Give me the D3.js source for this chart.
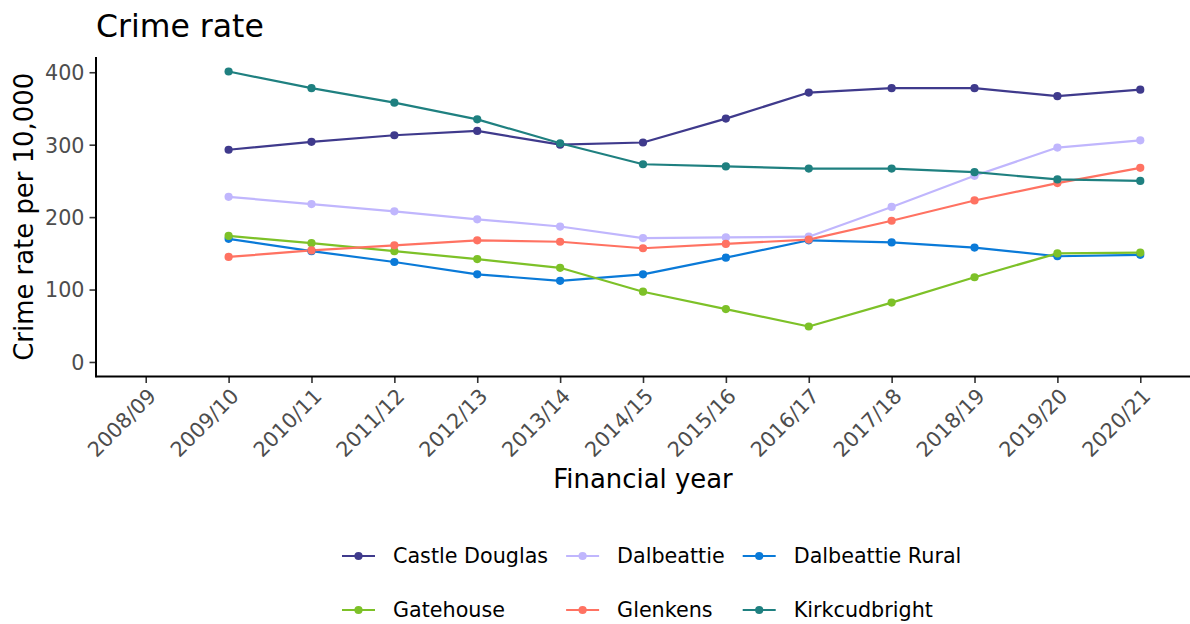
<!DOCTYPE html>
<html>
<head>
<meta charset="utf-8">
<script src="https://cdn.jsdelivr.net/npm/d3@7"></script>
<style>
  html, body { margin: 0; padding: 0; background: #fff; }
  svg { display: block; font-family: "DejaVu Sans", sans-serif; }
</style>
</head>
<body>
<svg id="chart" width="1190" height="624"></svg>
<script>
const years = ["2008/09","2009/10","2010/11","2011/12","2012/13","2013/14","2014/15","2015/16","2016/17","2017/18","2018/19","2019/20","2020/21"];
const seriesNames = ["Castle Douglas","Dalbeattie","Dalbeattie Rural","Gatehouse","Glenkens","Kirkcudbright"];
const seriesColors = ["#3f3a8c","#c0b6fd","#0a7ad8","#7dc128","#ff7262","#1f8080"];
const castleDouglas   = [null, 293, 304, 313, 319, 300, 303, 336, 372, 378, 378, 367, 376];
const dalbeattie      = [null, 228, 218, 208, 197, 187, 171, 172, 173, 214, 257, 296, 306];
const dalbeattieRural = [null, 170, 153, 138, 121, 112, 121, 144, 168, 165, 158, 146, 148];
const gatehouse       = [null, 174, 164, 153, 142, 130, 97, 73, 49, 82, 117, 150, 151];
const glenkens        = [null, 145, 154, 161, 168, 166, 157, 163, 169, 195, 223, 247, 268];
const kirkcudbright   = [null, 401, 378, 358, 335, 302, 273, 270, 267, 267, 262, 252, 250];
const yTicks = [0, 100, 200, 300, 400];
const titleText = "Crime rate";
const xTitle = "Financial year";
const yTitle = "Crime rate per 10,000";

const seriesValues = [castleDouglas, dalbeattie, dalbeattieRural, gatehouse, glenkens, kirkcudbright];
const series = seriesNames.map((name, i) => ({
  name, color: seriesColors[i],
  points: years.map((yr, j) => ({year: yr, value: seriesValues[i][j]})).filter(d => d.value != null)
}));

const svg = d3.select("#chart");
const pLeft = 96, pRight = 1190, pTop = 57, pBottom = 376.5;

const x = d3.scalePoint().domain(years).range([pLeft, pRight]).padding(0.6);
const allVals = seriesValues.flat().filter(v => v != null).concat([0]);
const vmin = d3.min(allVals), vmax = d3.max(allVals);
const ex = (vmax - vmin) * 0.05;
const y = d3.scaleLinear().domain([vmin - ex, vmax + ex]).range([pBottom, pTop]);

// Title
svg.append("text").attr("x", 96).attr("y", 37).attr("font-size", 31.5).attr("fill", "#000").text(titleText);

// Y axis
const yAxis = svg.append("g").attr("transform", `translate(${pLeft},0)`)
  .call(d3.axisLeft(y).tickValues(yTicks).tickSize(6.5).tickPadding(5));
yAxis.select(".domain").remove();
yAxis.selectAll(".tick line").attr("stroke", "#333").attr("stroke-width", 1.6);
yAxis.selectAll(".tick text").attr("font-size", 20.7).attr("fill", "#4d4d4d")
  .attr("font-family", "DejaVu Sans").attr("dy", "0.36em");

// X axis
const xAxis = svg.append("g").attr("transform", `translate(0,${pBottom})`)
  .call(d3.axisBottom(x).tickSize(6.5).tickPadding(0));
xAxis.select(".domain").remove();
xAxis.selectAll(".tick line").attr("stroke", "#333").attr("stroke-width", 1.6);
xAxis.selectAll(".tick text")
  .attr("font-size", 20.7).attr("fill", "#4d4d4d").attr("font-family", "DejaVu Sans")
  .attr("text-anchor", "end")
  .attr("y", 0).attr("dy", "0.75em")
  .attr("transform", "translate(0,10) rotate(-45)");

// axis lines
svg.append("line").attr("x1", pLeft).attr("x2", pLeft).attr("y1", pTop).attr("y2", pBottom + 0.8)
  .attr("stroke", "#000").attr("stroke-width", 2);
svg.append("line").attr("x1", pLeft - 0.8).attr("x2", pRight).attr("y1", pBottom).attr("y2", pBottom)
  .attr("stroke", "#000").attr("stroke-width", 2);

// Axis titles
svg.append("text").attr("x", (pLeft + pRight) / 2).attr("y", 488).attr("text-anchor", "middle")
  .attr("font-size", 25.9).attr("fill", "#000").text(xTitle);
svg.append("text").attr("transform", `translate(33,${(pTop + pBottom) / 2}) rotate(-90)`)
  .attr("text-anchor", "middle").attr("font-size", 25.9).attr("fill", "#000").text(yTitle);

// Lines
const line = d3.line().x(d => x(d.year)).y(d => y(d.value));
const gl = svg.append("g");
series.forEach(s => {
  gl.append("path").datum(s.points).attr("d", line).attr("fill", "none")
    .attr("stroke", s.color).attr("stroke-width", 2.2).attr("stroke-linejoin", "round");
});
const gp = svg.append("g");
series.forEach(s => {
  gp.selectAll(null).data(s.points).enter().append("circle")
    .attr("cx", d => x(d.year)).attr("cy", d => y(d.value)).attr("r", 4.1).attr("fill", s.color);
});

// Legend (3 columns x 2 rows, by row)
const legend = svg.append("g");
const ncol = 3;
const keyW = 33, keyGap = 18, colGap = 18;
const rowsY = [556, 610];
const meas = svg.append("text").attr("font-size", 20.7);
const widths = seriesNames.map(n => { meas.text(n); return meas.node().getComputedTextLength(); });
meas.remove();
const colW = d3.range(ncol).map(c => d3.max(widths.filter((_, i) => i % ncol === c)));
const colX = [342];
for (let c = 1; c < ncol; c++) colX.push(colX[c - 1] + keyW + keyGap + colW[c - 1] + colGap);
seriesNames.forEach((n, i) => {
  const c = i % ncol, r = Math.floor(i / ncol);
  const gx = colX[c], gy = rowsY[r];
  legend.append("line").attr("x1", gx).attr("x2", gx + keyW).attr("y1", gy).attr("y2", gy)
    .attr("stroke", seriesColors[i]).attr("stroke-width", 2.2);
  legend.append("circle").attr("cx", gx + keyW / 2).attr("cy", gy).attr("r", 4.1).attr("fill", seriesColors[i]);
  legend.append("text").attr("x", gx + keyW + keyGap).attr("y", gy).attr("dy", "0.36em")
    .attr("font-size", 20.7).attr("fill", "#000").text(n);
});
</script>
</body>
</html>
